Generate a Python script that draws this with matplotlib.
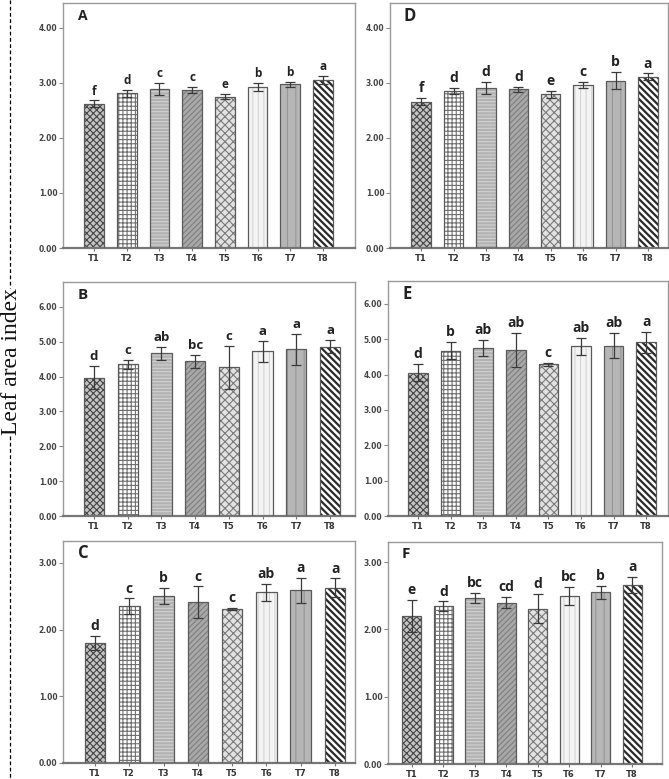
import matplotlib
matplotlib.use("Agg")
import matplotlib.pyplot as plt
from matplotlib.lines import Line2D
import numpy as np

plt.rcParams['hatch.linewidth'] = 0.8

treatments = ["T1", "T2", "T3", "T4", "T5", "T6", "T7", "T8"]

A_vals = [2.62, 2.81, 2.88, 2.87, 2.75, 2.93, 2.97, 3.05]
A_errs = [0.06, 0.06, 0.11, 0.05, 0.05, 0.07, 0.05, 0.07]
A_lets = ["f", "d", "c", "c", "e", "b", "b", "a"]

B_vals = [3.97, 4.35, 4.66, 4.44, 4.26, 4.72, 4.78, 4.86]
B_errs = [0.33, 0.13, 0.20, 0.19, 0.61, 0.30, 0.45, 0.18]
B_lets = ["d", "c", "ab", "bc", "c", "a", "a", "a"]

C_vals = [1.80, 2.35, 2.51, 2.41, 2.31, 2.56, 2.59, 2.63]
C_errs = [0.11, 0.12, 0.12, 0.24, 0.02, 0.13, 0.19, 0.14]
C_lets = ["d", "c", "b", "c", "c", "ab", "a", "a"]

D_vals = [2.66, 2.85, 2.91, 2.88, 2.79, 2.96, 3.04, 3.11]
D_errs = [0.07, 0.06, 0.11, 0.05, 0.06, 0.05, 0.15, 0.06]
D_lets = ["f", "d", "d", "d", "e", "c", "b", "a"]

E_vals = [4.06, 4.68, 4.76, 4.70, 4.29, 4.80, 4.82, 4.91]
E_errs = [0.25, 0.24, 0.23, 0.49, 0.04, 0.24, 0.36, 0.29]
E_lets = ["d", "b", "ab", "ab", "c", "ab", "ab", "a"]

F_vals = [2.20, 2.35, 2.47, 2.40, 2.31, 2.50, 2.55, 2.66]
F_errs = [0.24, 0.07, 0.07, 0.08, 0.22, 0.13, 0.10, 0.12]
F_lets = ["e", "d", "bc", "cd", "d", "bc", "b", "a"]

# per-treatment fill styles: (facecolor, hatch, hatchcolor, hatch linewidth)
styles = [
    ("#c4c4c4", "xxxxx", "#454545", 0.8),
    ("#ffffff", "++++", "#707070", 0.8),
    ("#b2b2b2", "-----", "#d2d2d2", 0.8),
    ("#a8a8a8", "//////", "#7e7e7e", 0.8),
    ("#e2e2e2", "xxxx", "#7a7a7a", 0.8),
    ("#f4f4f4", "|||", "#d4d4d4", 0.8),
    ("#b6b6b6", "||", "#969696", 0.8),
    ("#ffffff", "\\\\\\\\\\", "#2a2a2a", 1.6),
]

W, H = 669, 779
fig = plt.figure(figsize=(W / 100, H / 100), dpi=100)

def frac(l, t, r, b):
    return [l / W, 1 - b / H, (r - l) / W, (b - t) / H]

panels = [
    ("A", A_vals, A_errs, A_lets, frac(63, 3, 355, 248), (0, 4.45), [0, 1, 2, 3, 4], (0.05, 8.98), 10, 8.5),
    ("D", D_vals, D_errs, D_lets, frac(390, 3, 668, 248), (0, 4.45), [0, 1, 2, 3, 4], (0.04, 8.62), 12, 10),
    ("B", B_vals, B_errs, B_lets, frac(63, 282, 355, 516), (0, 6.71), [0, 1, 2, 3, 4, 5, 6], (0.08, 8.74), 11, 9.5),
    ("E", E_vals, E_errs, E_lets, frac(388, 281, 668, 516), (0, 6.65), [0, 1, 2, 3, 4, 5, 6], (0.08, 8.67), 12, 10),
    ("C", C_vals, C_errs, C_lets, frac(63, 541, 355, 763), (0, 3.33), [0, 1, 2, 3], (0.07, 8.58), 12, 10),
    ("F", F_vals, F_errs, F_lets, frac(388, 542, 662, 764), (0, 3.30), [0, 1, 2, 3], (0.24, 8.95), 11, 10),
]

x = np.arange(1, 9)
for name, vals, errs, lets, rect, ylim, yt, xlim, psize, lsize in panels:
    ax = fig.add_axes(rect)
    for i in range(8):
        fc, hatch, hc, hlw = styles[i]
        with plt.rc_context({'hatch.linewidth': hlw}):
            bars = ax.bar(x[i], vals[i], width=0.6, color=fc, edgecolor=hc, hatch=hatch, linewidth=0, zorder=2)
            for b in bars:
                if hasattr(b, "set_hatch_linewidth"):
                    b.set_hatch_linewidth(hlw)
        ax.bar(x[i], vals[i], width=0.6, facecolor="none", edgecolor="#5a5a5a", linewidth=0.9, zorder=3)
    ax.errorbar(x, vals, yerr=errs, fmt="none", ecolor="#3a3a3a", elinewidth=0.9, capsize=3.5, capthick=0.9, zorder=4)
    top = max(ylim)
    for i in range(8):
        ax.text(x[i], vals[i] + errs[i] + top * 0.012, lets[i], ha="center", va="bottom",
                fontsize=lsize, fontweight="bold", family="Open Sans", color="#222222", zorder=5)
    ax.set_xlim(*xlim)
    ax.set_ylim(*ylim)
    ax.set_yticks(yt)
    ax.set_yticklabels([f"{v:.2f}" for v in yt], fontsize=5.5, color="#444444", fontweight="bold")
    ax.set_xticks(x)
    ax.set_xticklabels(treatments, fontsize=6, color="#333333", fontweight="bold")
    ax.tick_params(axis="y", direction="out", length=3, width=0.8, color="#888888", pad=1)
    ax.tick_params(axis="x", direction="inout", length=4, width=0.8, color="#777777", pad=2)
    for s in ["top", "left", "right"]:
        ax.spines[s].set_color("#9a9a9a")
        ax.spines[s].set_linewidth(1.0)
    ax.spines["bottom"].set_color("#777777")
    ax.spines["bottom"].set_linewidth(1.6)
    ax.text(0.05, 0.945, name, transform=ax.transAxes, fontsize=psize, fontweight="bold",
            family="Open Sans", color="#222222", ha="left", va="center")

# left dashed line with label
y_text = 1 - 362 / H
lab = fig.text(12 / W, y_text, "Leaf area index", rotation=90, ha="center", va="center",
               family="Liberation Serif", fontsize=17, color="#111111")
fig.canvas.draw()
bb = lab.get_window_extent(fig.canvas.get_renderer()).transformed(fig.transFigure.inverted())
fig.add_artist(Line2D([10 / W, 10 / W], [1.0, bb.y1 + 1 / H], transform=fig.transFigure,
                      color="black", lw=0.9, linestyle=(0, (3, 2))))
fig.add_artist(Line2D([10 / W, 10 / W], [bb.y0 - 1 / H, 0], transform=fig.transFigure,
                      color="black", lw=0.9, linestyle=(0, (3, 2))))

fig.savefig("out.png", dpi=100)
